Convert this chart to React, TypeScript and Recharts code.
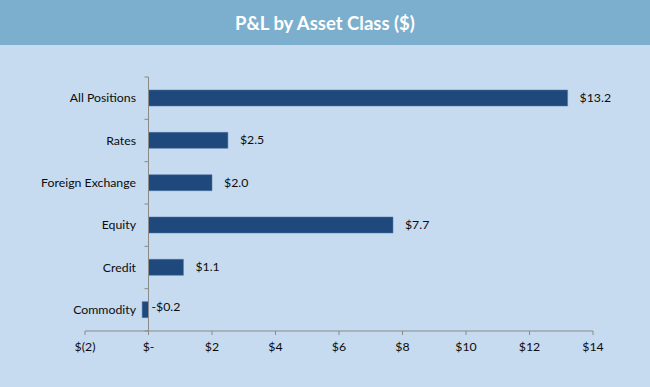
import { Bar, BarChart, LabelList, ReferenceLine, XAxis, YAxis } from "recharts";

const categories = ["All Positions", "Rates", "Foreign Exchange", "Equity", "Credit", "Commodity"];
const pnl = [13.2, 2.5, 2.0, 7.7, 1.1, -0.2];
const xTicks = [-2, 0, 2, 4, 6, 8, 10, 12, 14];

const data = categories.map((name, i) => ({ name, pnl: pnl[i] }));

const FONT = "Lato, 'Open Sans', sans-serif";
const AXIS = "#8a8a8a";
const INK = "#0d0d0d";
// shifts the category labels from the plot's left edge over to just beside the zero line
const LABEL_SHIFT = 59;

function formatAxis(v: number) {
  if (v === 0) return "$-";
  if (v < 0) return `$(${-v})`;
  return `$${v}`;
}

function CategoryTick(props: any) {
  const { x, y, payload } = props;
  return (
    <text
      x={x + LABEL_SHIFT}
      y={y}
      dy={4}
      textAnchor="end"
      fill={INK}
      fontSize={12.3}
      fontFamily={FONT}
    >
      {payload.value}
    </text>
  );
}

function ZeroAxis(props: any) {
  const { x1, y1, x2, y2 } = props;
  const n = categories.length;
  const marks = [];
  for (let i = 0; i <= n; i++) {
    const y = y1 + ((y2 - y1) * i) / n;
    marks.push(<line key={i} x1={x1 - 4} y1={y} x2={x1} y2={y} stroke={AXIS} strokeWidth={1} />);
  }
  return (
    <g>
      <line x1={x1} y1={y1} x2={x2} y2={y2} stroke={AXIS} strokeWidth={1} />
      {marks}
    </g>
  );
}

function ValueLabel(props: any) {
  const { x, y, width, height, value } = props;
  const right = Math.max(x, x + width);
  const neg = value < 0;
  const text = neg ? `-$${Math.abs(value).toFixed(1)}` : `$${value.toFixed(1)}`;
  return (
    <text
      x={neg ? right + 3 : right + 12}
      y={y + height / 2}
      dy={neg ? 1 : 4}
      textAnchor="start"
      fill={INK}
      fontSize={12.3}
      fontFamily={FONT}
    >
      {text}
    </text>
  );
}

export default function App() {
  return (
    <div
      style={{
        position: "absolute",
        left: 0,
        top: 0,
        width: 650,
        height: 387,
        background: "#c6daf0",
        fontFamily: FONT
      }}
    >
      <div
        style={{
          height: 45,
          background: "#7bafcd",
          color: "#fff",
          fontWeight: 700,
          fontSize: 18.5,
          display: "flex",
          alignItems: "center",
          justifyContent: "center",
          paddingTop: 1,
          boxSizing: "border-box"
        }}
      >
        P&amp;L by Asset Class ($)
      </div>
      <BarChart
        width={650}
        height={342}
        data={data}
        layout="vertical"
        margin={{ top: 32, right: 57, left: 0, bottom: 26 }}
        barSize={16}
      >
        <XAxis
          type="number"
          domain={[-2, 14]}
          ticks={xTicks}
          tickFormatter={formatAxis}
          axisLine={{ stroke: AXIS }}
          tickLine={{ stroke: AXIS }}
          tickSize={4}
          tickMargin={7}
          tick={{ fill: INK, fontSize: 12.3, fontFamily: FONT }}
          height={30}
          interval={0}
        />
        <YAxis
          type="category"
          dataKey="name"
          width={85}
          axisLine={false}
          tickLine={false}
          tick={<CategoryTick />}
          interval={0}
        />
        <Bar dataKey="pnl" fill="#1f497d" stroke="#4f73a3" strokeWidth={0.5} isAnimationActive={false}>
          <LabelList dataKey="pnl" content={<ValueLabel />} />
        </Bar>
        <ReferenceLine x={0} shape={<ZeroAxis />} />
      </BarChart>
    </div>
  );
}
